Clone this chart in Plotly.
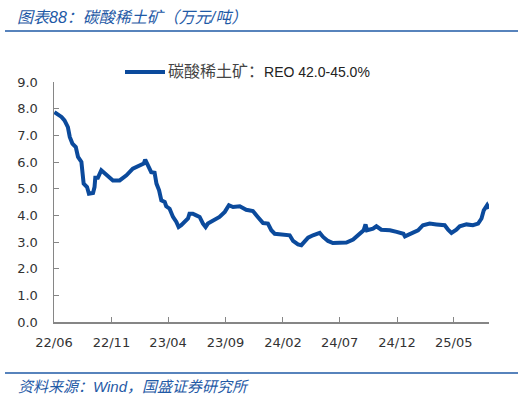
import plotly.graph_objects as go

# Data (万元/吨)
dates = [
    "2022-06-02", "2022-06-21", "2022-06-29", "2022-07-08", "2022-07-13", "2022-07-20",
    "2022-07-29", "2022-08-04", "2022-08-13", "2022-08-19", "2022-08-28", "2022-09-02",
    "2022-09-13", "2022-09-17", "2022-09-19", "2022-09-26", "2022-10-05", "2022-10-19",
    "2022-11-05", "2022-11-23", "2022-12-11", "2022-12-28", "2023-01-15", "2023-01-26",
    "2023-01-30", "2023-02-06", "2023-02-15", "2023-02-24", "2023-03-01", "2023-03-08",
    "2023-03-14", "2023-03-23", "2023-03-27", "2023-04-05", "2023-04-14", "2023-04-23",
    "2023-04-29", "2023-05-06", "2023-05-15", "2023-05-24", "2023-05-28", "2023-06-06",
    "2023-06-15", "2023-06-24", "2023-07-03", "2023-07-10", "2023-07-16", "2023-07-30",
    "2023-08-16", "2023-08-30", "2023-09-10", "2023-09-21", "2023-10-09", "2023-10-26",
    "2023-11-13", "2023-11-26", "2023-12-10", "2023-12-23", "2024-01-01", "2024-01-10",
    "2024-02-01", "2024-02-19", "2024-02-28", "2024-03-12", "2024-03-21", "2024-03-30",
    "2024-04-08", "2024-04-21", "2024-05-09", "2024-05-18", "2024-05-31", "2024-06-13",
    "2024-07-01", "2024-07-19", "2024-08-06", "2024-08-23", "2024-09-03", "2024-09-08",
    "2024-09-12", "2024-09-28", "2024-10-07", "2024-10-20", "2024-11-12", "2024-11-30",
    "2024-12-18", "2024-12-22", "2025-01-08", "2025-01-26", "2025-02-08", "2025-02-26",
    "2025-03-16", "2025-04-07", "2025-04-16", "2025-04-25", "2025-05-08", "2025-05-17",
    "2025-06-04", "2025-06-21", "2025-07-05", "2025-07-14", "2025-07-20", "2025-07-24",
    "2025-07-29", "2025-08-03",
]
prices = [
    7.87, 7.69, 7.56, 7.31, 6.94, 6.69,
    6.56, 6.19, 6.00, 5.19, 5.06, 4.81,
    4.84, 5.06, 5.41, 5.41, 5.69, 5.50,
    5.31, 5.31, 5.50, 5.75, 5.88, 5.94,
    6.09, 5.91, 5.62, 5.60, 5.19, 4.94,
    4.56, 4.50, 4.34, 4.25, 3.94, 3.75,
    3.56, 3.63, 3.75, 3.88, 4.06, 4.06,
    4.00, 3.94, 3.69, 3.56, 3.69, 3.81,
    3.94, 4.13, 4.38, 4.31, 4.34, 4.21,
    4.16, 3.94, 3.71, 3.69, 3.44, 3.31,
    3.29, 3.25, 3.04, 2.91, 2.88, 3.00,
    3.16, 3.25, 3.34, 3.19, 3.04, 2.96,
    2.96, 2.98, 3.09, 3.29, 3.44, 3.66,
    3.44, 3.50, 3.59, 3.46, 3.44, 3.38,
    3.31, 3.21, 3.31, 3.44, 3.63, 3.69,
    3.66, 3.63, 3.46, 3.34, 3.46, 3.59,
    3.66, 3.63, 3.69, 3.88, 4.19, 4.31,
    4.38, 4.25,
]

tick_dates = ["2022-06-01", "2022-11-01", "2023-04-01", "2023-09-01",
              "2024-02-01", "2024-07-01", "2024-12-01", "2025-05-01"]
tick_labels = ["22/06", "22/11", "23/04", "23/09", "24/02", "24/07", "24/12", "25/05"]
y_ticks = [0, 1, 2, 3, 4, 5, 6, 7, 8, 9]
y_labels = ["0.0", "1.0", "2.0", "3.0", "4.0", "5.0", "6.0", "7.0", "8.0", "9.0"]

series_cn = "碳酸稀土矿："
series_en = "REO 42.0-45.0%"
series_name = series_cn + series_en
title_head = "图表88："
title_body = "碳酸稀土矿（万元/吨）"
source_text = "资料来源：Wind，国盛证券研究所"

LINE_BLUE = "#0b4a9c"
HEAD_BLUE = "#1f5aa6"
AXIS_GRAY = "#868686"
TEXT = "#333333"

W, H = 526, 398
ML, MR, MT, MB = 54, 37, 82, 76
PW, PH = W - ML - MR, H - MT - MB


def px(x):
    return (x - ML) / PW


def py(y):
    return (H - MB - y) / PH


fig = go.Figure()
fig.add_trace(go.Scatter(
    x=dates, y=prices, mode="lines", name=series_name,
    line=dict(color=LINE_BLUE, width=4),
    showlegend=False,
))

fig.update_layout(
    width=W, height=H,
    margin=dict(l=ML, r=MR, t=MT, b=MB),
    paper_bgcolor="white", plot_bgcolor="white",
    font=dict(family="DejaVu Sans, Noto Sans CJK SC", size=13, color=TEXT),
    showlegend=False,
    xaxis=dict(
        type="date",
        range=["2022-06-01", "2025-08-03"],
        tickmode="array", tickvals=tick_dates, ticktext=tick_labels,
        ticks="inside", ticklen=5, tickcolor=AXIS_GRAY, tickwidth=1,
        showline=True, linecolor=AXIS_GRAY, linewidth=1.5,
        showgrid=False, zeroline=False,
        tickfont=dict(family="DejaVu Sans", size=13, color=TEXT),
        ticklabelstandoff=8,
        fixedrange=True,
    ),
    yaxis=dict(
        range=[0, 9],
        tickmode="array", tickvals=y_ticks, ticktext=y_labels,
        ticks="inside", ticklen=5, tickcolor=AXIS_GRAY, tickwidth=1,
        showline=True, linecolor=AXIS_GRAY, linewidth=1.5,
        showgrid=False, zeroline=False,
        tickfont=dict(family="DejaVu Sans", size=13, color=TEXT),
        ticklabelstandoff=12,
        fixedrange=True,
    ),
)

shapes = [
    # header rule
    dict(type="line", xref="paper", yref="paper",
         x0=px(5), x1=px(518), y0=py(31), y1=py(31),
         line=dict(color=HEAD_BLUE, width=1.5)),
    # footer rule
    dict(type="line", xref="paper", yref="paper",
         x0=px(5), x1=px(518), y0=py(373), y1=py(373),
         line=dict(color=HEAD_BLUE, width=1.5)),
    # legend swatch
    dict(type="line", xref="paper", yref="paper",
         x0=px(125), x1=px(165), y0=py(72), y1=py(72),
         line=dict(color=LINE_BLUE, width=4)),
]
fig.update_layout(shapes=shapes)

annotations = [
    dict(text="<i>" + title_head + title_body + "</i>", xref="paper", yref="paper",
         x=px(15), y=py(17), xanchor="left", yanchor="middle", showarrow=False,
         font=dict(family="Liberation Sans, Noto Sans CJK SC", size=16, color=HEAD_BLUE)),
    dict(text="<i>" + source_text + "</i>", xref="paper", yref="paper",
         x=px(16), y=py(386), xanchor="left", yanchor="middle", showarrow=False,
         font=dict(family="Liberation Sans, Noto Sans CJK SC", size=15, color=HEAD_BLUE)),
    dict(text='<span style="font-size:16px;color:#444444">' + series_cn + "</span>" + series_en,
         xref="paper", yref="paper",
         x=px(166), y=py(72), xanchor="left", yanchor="middle", showarrow=False,
         font=dict(family="Liberation Sans, Noto Sans CJK SC", size=14, color="#222222")),
]
fig.update_layout(annotations=annotations)

fig.write_html(
    "out.html",
    config={"displayModeBar": False, "staticPlot": True},
    post_script="document.body.style.margin='0';document.body.style.overflow='hidden';",
)
